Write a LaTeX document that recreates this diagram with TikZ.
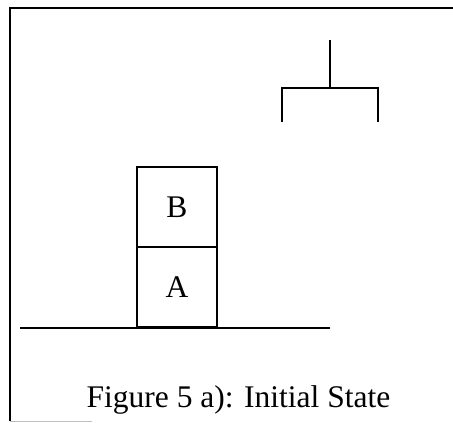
\documentclass[tikz,border=0pt]{standalone}
\usepackage{fontspec}
\setmainfont{Liberation Serif}
\usetikzlibrary{positioning}

\begin{document}
\begin{tikzpicture}[
  x=1pt, y=-1pt,
  font=\fontsize{31.5}{38}\selectfont,
  block/.style={draw, line width=1.8pt, minimum width=80pt, minimum height=80pt, inner sep=0pt},
  wire/.style={line width=2pt}
]
  \useasboundingbox (0,0) rectangle (453,423);
  % frame
  \coordinate (fb) at (10,421);
  \coordinate (fc) at (10,8);
  \coordinate (fr) at (453,8);
  \draw[wire] (fb) -- (fc) -- (fr);
  \draw[gray!50, line width=1pt] (fb) -- ++(82,0);
  % table and blocks
  \coordinate (tl) at (20,328);
  \coordinate (tr) at (330,328);
  \node[block, anchor=south west] (A) at (136,328) {A};
  \node[block, above=-1.8pt of A] (B) {B};
  \draw[wire] (tl) -- (tr);
  % gripper
  \coordinate (g0) at (330,40);
  \coordinate (g1) at (330,88);
  \coordinate (gl) at (282,122);
  \coordinate (gr) at (378,122);
  \draw[wire] (g0) -- (g1);
  \draw[wire] (gl) -- (gl |- g1) -- (gr |- g1) -- (gr);
  % caption
  \node[anchor=base] (cap) at (238.5,407) {Figure 5 a): Initial State};
\end{tikzpicture}
\end{document}
